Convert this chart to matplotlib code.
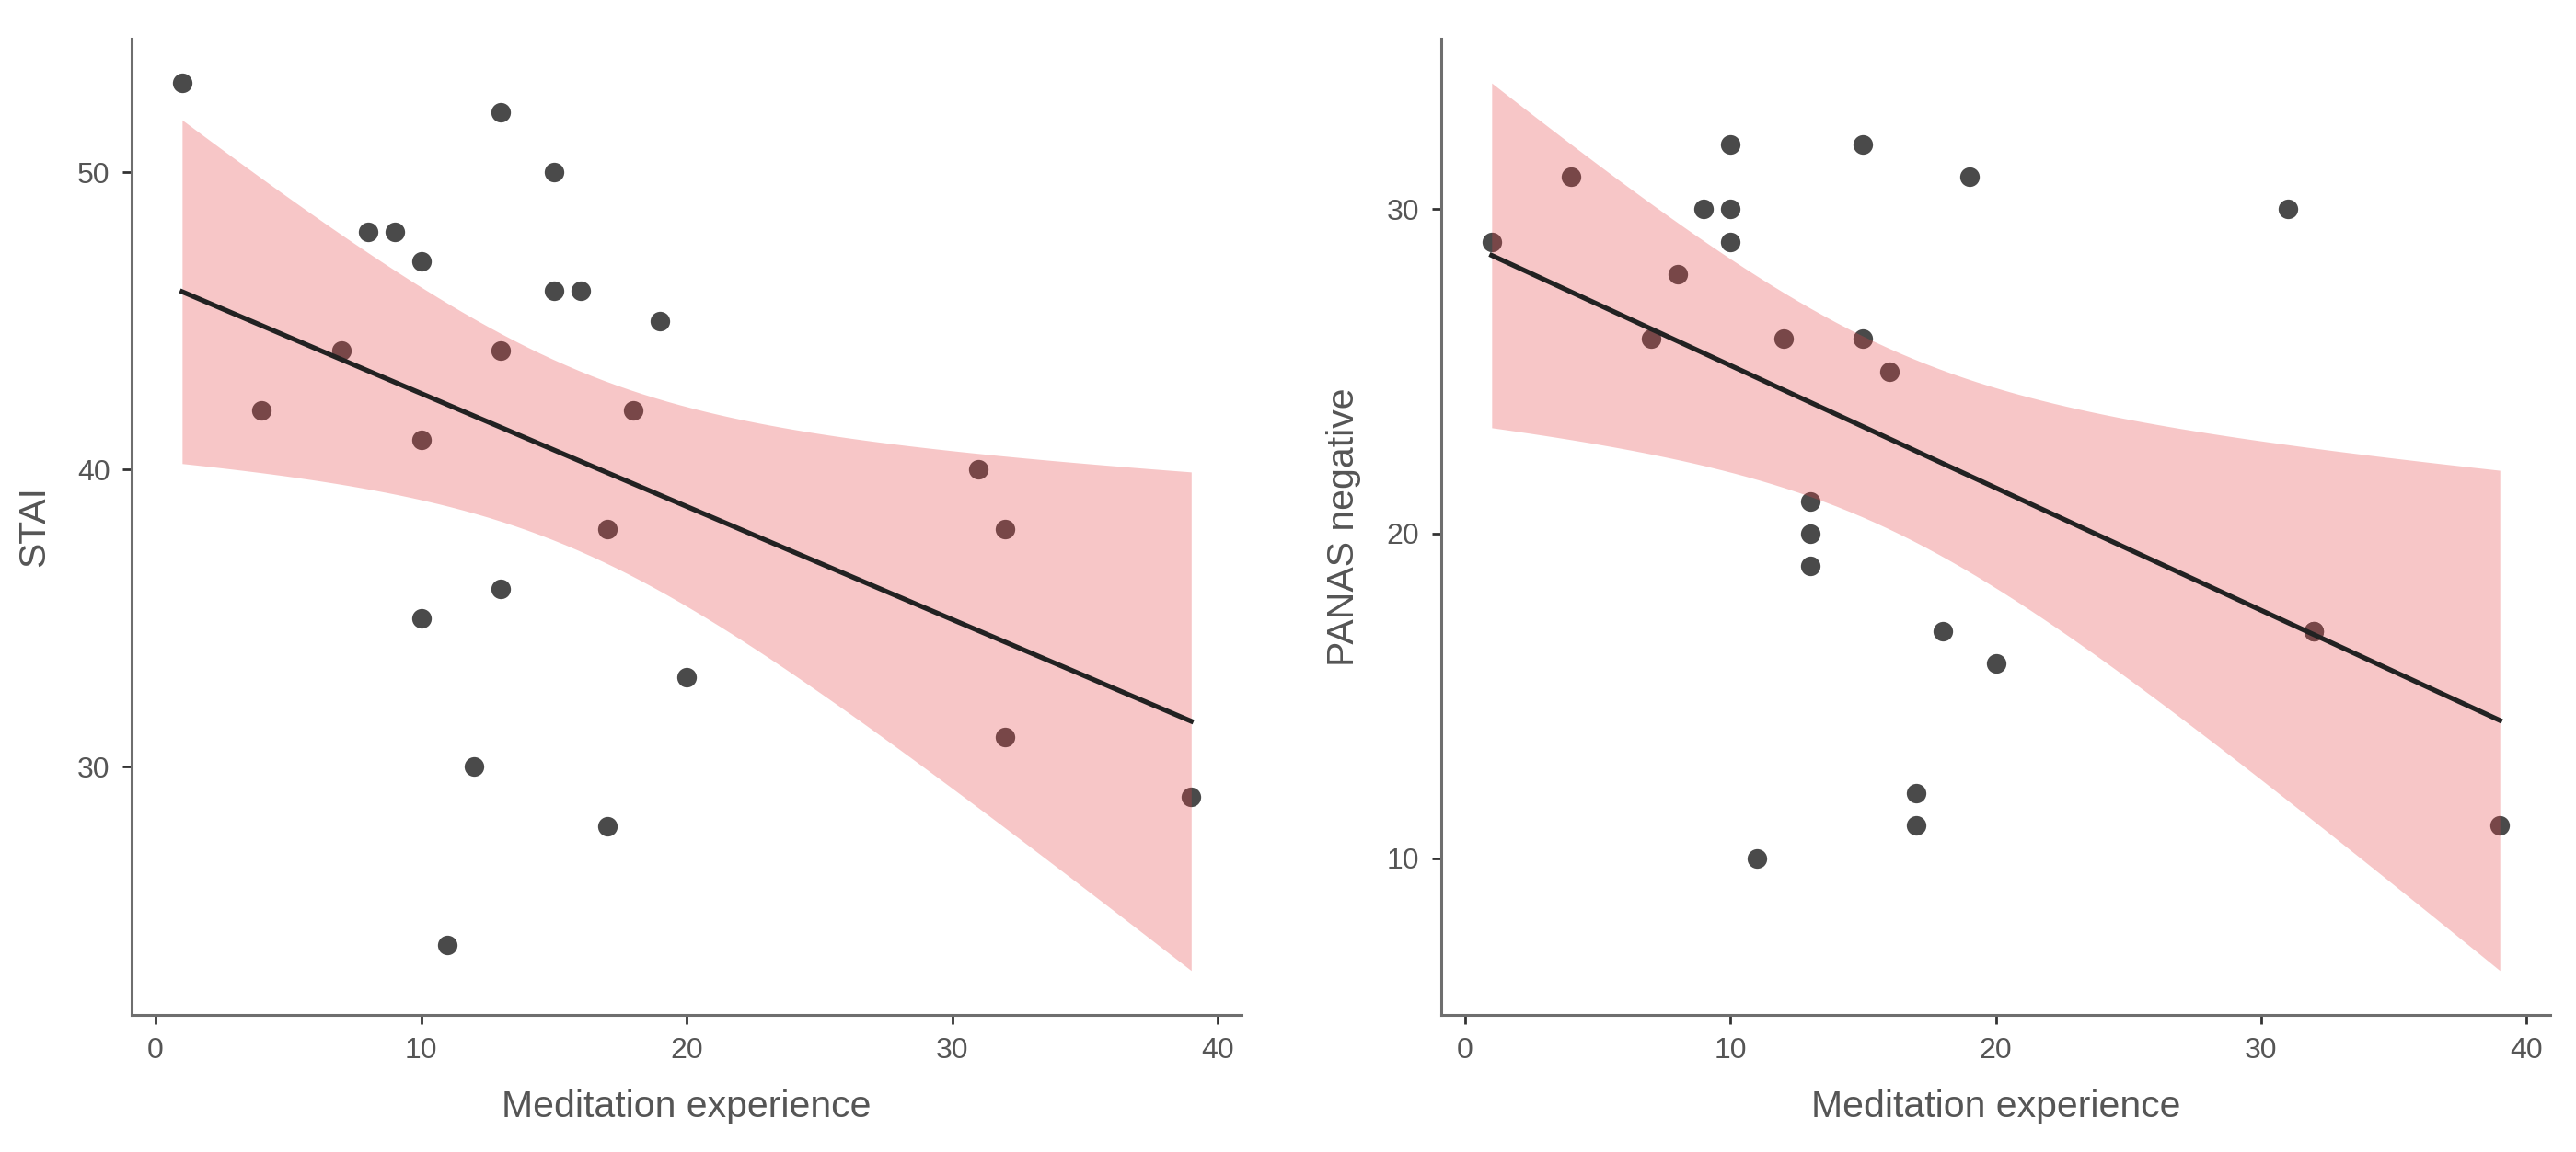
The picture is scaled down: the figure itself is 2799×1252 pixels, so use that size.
import matplotlib
matplotlib.use("Agg")
import matplotlib.pyplot as plt
import numpy as np

# Meditation experience vs STAI and PANAS negative (scatter + lm fit, 95% CI)

exp_stai = [1, 13, 15, 8, 9, 10, 15, 16, 19, 7, 13, 4, 18, 10, 31, 17, 32,
            13, 10, 20, 32, 12, 39, 17, 11]
stai = [53, 52, 50, 48, 48, 47, 46, 46, 45, 44, 44, 42, 42, 41, 40, 38, 38,
        36, 35, 33, 31, 30, 29, 28, 24]

exp_panas = [10, 15, 4, 19, 9, 10, 31, 1, 10, 8, 7, 12, 15, 16, 13, 13, 13,
             18, 32, 32, 20, 17, 17, 39, 11]
panas = [32, 32, 31, 31, 30, 30, 30, 29, 29, 28, 26, 26, 26, 25, 21, 20, 19,
         17, 17, 17, 16, 12, 11, 11, 10]

x_ticks = [0, 10, 20, 30, 40]
stai_ticks = [30, 40, 50]
panas_ticks = [10, 20, 30]

T975 = 2.069  # t quantile, df = 23

plt.rcParams['font.family'] = ['Liberation Sans', 'DejaVu Sans']

fig = plt.figure(figsize=(27.99, 12.52), dpi=100)


def lm_band(x, y):
    x = np.asarray(x, float)
    y = np.asarray(y, float)
    n = len(x)
    b1, b0 = np.polyfit(x, y, 1)
    resid = y - (b0 + b1 * x)
    s = np.sqrt(np.sum(resid ** 2) / (n - 2))
    xg = np.linspace(x.min(), x.max(), 80)
    fit = b0 + b1 * xg
    se = s * np.sqrt(1 / n + (xg - x.mean()) ** 2 / np.sum((x - x.mean()) ** 2))
    return xg, fit, fit - T975 * se, fit + T975 * se


def panel(rect, x, y, yticks, ylabel):
    ax = fig.add_axes(rect)
    xg, fit, lo, hi = lm_band(x, y)
    ax.scatter(x, y, s=235, color='#4a4a4a', linewidths=0, zorder=2)
    ax.fill_between(xg, lo, hi, color='#e54346', alpha=0.3, linewidth=0, zorder=3)
    ax.plot(xg, fit, color='#222222', linewidth=3.8, zorder=4)

    x0, x1 = min(x), max(x)
    dx = (x1 - x0) * 0.05
    ax.set_xlim(x0 - dx, x1 + dx)
    y0, y1 = min(min(y), lo.min()), max(max(y), hi.max())
    dy = (y1 - y0) * 0.05
    ax.set_ylim(y0 - dy, y1 + dy)

    ax.set_xticks(x_ticks)
    ax.set_yticks(yticks)
    for side in ['top', 'right']:
        ax.spines[side].set_visible(False)
    for side in ['left', 'bottom']:
        ax.spines[side].set_color('#6e6e6e')
        ax.spines[side].set_linewidth(2.2)
    ax.tick_params(length=7, width=2, color='#333333', labelsize=23,
                   labelcolor='#555555', pad=10)
    ax.set_xlabel('Meditation experience', fontsize=29.5, color='#555555', labelpad=20)
    ax.set_ylabel(ylabel, fontsize=29.5, color='#555555', labelpad=20)
    return ax


panel([0.0511, 0.119, 0.4309, 0.8475], exp_stai, stai, stai_ticks, 'STAI')
panel([0.5595, 0.119, 0.4305, 0.8475], exp_panas, panas, panas_ticks, 'PANAS negative')

fig.savefig('out.png', dpi=100, facecolor='white')
